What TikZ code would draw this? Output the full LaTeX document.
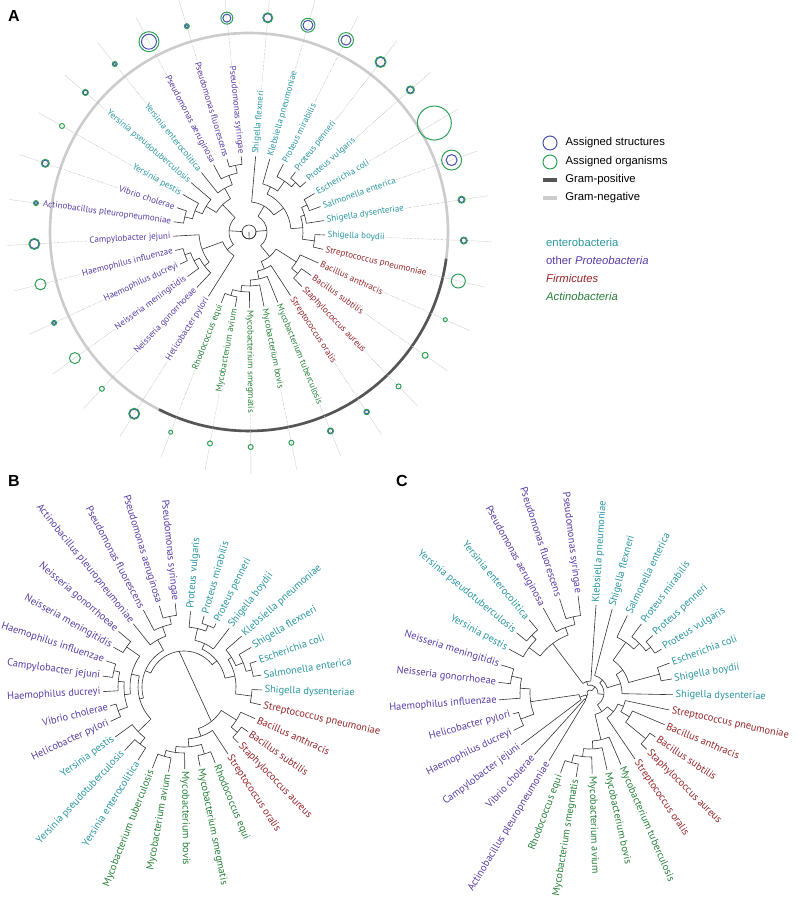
\documentclass[tikz,border=0pt]{standalone}
\usepackage{fontspec}
\setmainfont{Liberation Sans}
\newfontfamily\taxfont{PT Sans}
\usepackage{tikz}
\usetikzlibrary{positioning}
\definecolor{ent}{RGB}{42,150,160}
\definecolor{prot}{RGB}{88,60,165}
\definecolor{firm}{RGB}{150,36,40}
\definecolor{actn}{RGB}{38,128,58}
\definecolor{struct}{RGB}{70,80,175}
\definecolor{organism}{RGB}{45,160,85}
\definecolor{grampos}{RGB}{85,85,85}
\definecolor{gramneg}{RGB}{204,204,204}
\tikzset{%
  branch/.style={%
    line width=0.6pt,
    color=black!80,
    line join=round
  }
}
\tikzset{%
  leader/.style={%
    densely dotted,
    line width=0.35pt,
    color=black!55
  }
}
\tikzset{%
  spoke/.style={%
    line width=0.4pt,
    color=black!18
  }
}
\tikzset{%
  org ring/.style={line width=1pt, draw=organism},
  struct ring/.style={line width=1pt, draw=struct}
}
\tikzset{%
  panel/.style={font=\bfseries\fontsize{16}{18}\selectfont, inner sep=0pt},
  legend text/.style={font=\fontsize{11.3}{13}\selectfont, inner sep=0pt, anchor=west}
}

% leaf: id, angle, tip radius, colour, text
\newcommand\taxon[5]{%
  \expandafter\xdef\csname ang#1\endcsname{#2}%
  \expandafter\xdef\csname rad#1\endcsname{#3}%
  \coordinate (#1) at (#2:#3);
  \pgfmathtruncatemacro\sidecheck{cos(#2)>0}%
  \ifnum\sidecheck=1
    \node[taxon, text=#4, anchor=west, rotate=#2] (#1-l) at (#2:#3+1.5) {#5};
    \xdef\farend{#1-l.east}%
  \else
    \node[taxon, text=#4, anchor=east, rotate=#2+180] (#1-l) at (#2:#3+1.5) {#5};
    \xdef\farend{#1-l.west}%
  \fi}
% clade: id, radius, child, child
\newcommand\clade[4]{%
  \edef\tA{\csname ang#3\endcsname}\edef\tB{\csname ang#4\endcsname}%
  \edef\rA{\csname rad#3\endcsname}\edef\rB{\csname rad#4\endcsname}%
  \draw[branch] (\tA:\rA) -- (\tA:#2) arc[start angle=\tA, end angle=\tB, radius=#2] -- (\tB:\rB);
  \pgfmathsetmacro\tM{(\tA+\tB)/2}%
  \expandafter\xdef\csname ang#1\endcsname{\tM}%
  \expandafter\xdef\csname rad#1\endcsname{#2}%
  \coordinate (#1) at (\tM:#2);}

\begin{document}
\begin{tikzpicture}[x=1pt,y=1pt]
  \useasboundingbox (0,0) rectangle (796,902);

  \node[panel] (labA) at (14,886) {A};
  \node[panel] (labB) at (14,421) {B};
  \node[panel] (labC) at (402,421) {C};

  % legend
  \node[circle, struct ring, minimum size=14pt, inner sep=0pt] (keyStruct) at (550,759) {};
  \node[legend text, right=8pt of keyStruct] (keyStructText) {Assigned structures};
  \node[circle, org ring, minimum size=14pt, inner sep=0pt] (keyOrg) at (550,740) {};
  \node[legend text, right=8pt of keyOrg] (keyOrgText) {Assigned organisms};
  \node[fill=grampos, minimum width=14pt, minimum height=4.5pt, inner sep=0pt] (keyPos) at (550,722) {};
  \node[legend text, right=8pt of keyPos] (keyPosText) {Gram-positive};
  \node[fill=gramneg, minimum width=14pt, minimum height=4.5pt, inner sep=0pt] (keyNeg) at (550,704) {};
  \node[legend text, right=8pt of keyNeg] (keyNegText) {Gram-negative};
  \node[legend text, text=ent] (keyEnt) at (546,660) {enterobacteria};
  \node[legend text, text=prot] (keyProt) at (546,642) {other \textit{Proteobacteria}};
  \node[legend text, text=firm] (keyFirm) at (546,624) {\textit{Firmicutes}};
  \node[legend text, text=actn] (keyActn) at (546,606) {\textit{Actinobacteria}};

  % tree A
  \begin{scope}[shift={(249,670)}, taxon/.style={font=\taxfont\fontsize{9}{10}\selectfont, inner sep=1pt}]
    \draw[line width=2.6pt, gramneg] (0,0) circle[radius=199];
    \draw[line width=2.6pt, grampos] (-7.7:199) arc[start angle=-7.7, end angle=-116.9, radius=199];
    \foreach \id/\cl/\txt/\g/\b [count=\k from 0] in {
      Sflex/ent/Shigella flexneri/5/4.2,
      Kleb/ent/Klebsiella pneumoniae/7/5,
      Pmir/ent/Proteus mirabilis/7.5/5,
      Ppen/ent/Proteus penneri/5.5/4.7,
      Pvul/ent/Proteus vulgaris/4/3.2,
      Ecoli/ent/Escherichia coli/17/0,
      Salm/ent/Salmonella enterica/10/5.5,
      Sdys/ent/Shigella dysenteriae/3.5/2.7,
      Sboy/ent/Shigella boydii/3.5/2.7,
      Spneu/firm/Streptococcus pneumoniae/7/0,
      Banth/firm/Bacillus anthracis/2/0,
      Bsub/firm/Bacillus subtilis/3/0,
      Saur/firm/Staphylococcus aureus/2.5/0,
      Sora/firm/Streptococcus oralis/2.7/2,
      Mtub/actn/Mycobacterium tuberculosis/3/2.4,
      Mbov/actn/Mycobacterium bovis/2.5/0,
      Msmeg/actn/Mycobacterium smegmatis/2.5/0,
      Mavi/actn/Mycobacterium avium/2.5/0,
      Requi/actn/Rhodococcus equi/2/0,
      Hpyl/prot/Helicobacter pylori/5.5/4.7,
      Ngon/prot/Neisseria gonorrhoeae/2.5/0,
      Nmen/prot/Neisseria meningitidis/5.5/0,
      Hduc/prot/Haemophilus ducreyi/2.5/1.8,
      Hinf/prot/Haemophilus influenzae/5.5/0,
      Cjej/prot/Campylobacter jejuni/5.5/4.7,
      Apleu/prot/Actinobacillus pleuropneumoniae/2.5/1.8,
      Vcho/prot/Vibrio cholerae/4/3.2,
      Ypes/ent/Yersinia pestis/2.5/0,
      Ypseu/ent/Yersinia pseudotuberculosis/3/2.3,
      Yent/ent/Yersinia enterocolitica/2.5/1.8,
      Paer/prot/Pseudomonas aeruginosa/10/7.5,
      Pflu/prot/Pseudomonas fluorescens/2.5/1.8,
      Psyr/prot/Pseudomonas syringae/6/4}{
      \pgfmathsetmacro\th{85-\k*360/33}
      \taxon{A\id}{\th}{76}{\cl}{\txt}
      \draw[leader] (\farend) -- (\th:199);
      \draw[spoke] (\th:199) -- (\th:242);
      \ifdim\b pt>0pt \draw[struct ring] (\th:215) circle[radius=\b]; \fi
      \draw[org ring] (\th:215) circle[radius=\g];
    }
    \clade{Aa1}{68}{APpen}{APvul}
    \clade{Aa2}{62}{APmir}{Aa1}
    \clade{Aa3}{50}{AKleb}{Aa2}
    \clade{Aa4}{64}{AEcoli}{ASalm}
    \clade{Aa5}{58}{Aa4}{ASdys}
    \clade{Aa6}{66}{ASboy}{ASpneu}
    \clade{Aa7}{54}{Aa5}{Aa6}
    \clade{Aa8}{42}{Aa3}{Aa7}
    \clade{Aa9}{30}{ASflex}{Aa8}
    \clade{Aa10}{64}{ABsub}{ASaur}
    \clade{Aa11}{56}{ABanth}{Aa10}
    \clade{Aa12}{66}{AMavi}{ARequi}
    \clade{Aa13}{60}{AMsmeg}{Aa12}
    \clade{Aa14}{54}{AMbov}{Aa13}
    \clade{Aa15}{48}{AMtub}{Aa14}
    \clade{Aa16}{40}{ASora}{Aa15}
    \clade{Aa17}{32}{Aa11}{Aa16}
    \clade{Aa18}{18}{Aa9}{Aa17}
    \clade{Aa19}{68}{AHduc}{AHinf}
    \clade{Aa20}{62}{ANmen}{Aa19}
    \clade{Aa21}{56}{ANgon}{Aa20}
    \clade{Aa22}{50}{Aa21}{ACjej}
    \clade{Aa23}{28}{AHpyl}{Aa22}
    \clade{Aa24}{66}{AApleu}{AVcho}
    \clade{Aa25}{58}{Aa24}{AYpes}
    \clade{Aa26}{50}{Aa25}{AYpseu}
    \clade{Aa27}{68}{APflu}{APsyr}
    \clade{Aa28}{60}{APaer}{Aa27}
    \clade{Aa29}{50}{AYent}{Aa28}
    \clade{Aa30}{38}{Aa26}{Aa29}
    \clade{Aa31}{20}{Aa23}{Aa30}
    \clade{Aroot}{7}{Aa18}{Aa31}
    \draw[branch] (0,0) circle[radius=7];
    \draw[branch] (0,0) -- (Aroot);
  \end{scope}

  % tree B
  \begin{scope}[shift={(184,215)}, taxon/.style={font=\taxfont\fontsize{10.4}{12}\selectfont, inner sep=1pt}]
    \foreach \id/\cl/\txt/\r [count=\k from 0] in {
      Psyr/prot/Pseudomonas syringae/84,
      Pvul/ent/Proteus vulgaris/76,
      Pmir/ent/Proteus mirabilis/74,
      Ppen/ent/Proteus penneri/71,
      Sboy/ent/Shigella boydii/74,
      Kleb/ent/Klebsiella pneumoniae/77,
      Sflex/ent/Shigella flexneri/78,
      Ecoli/ent/Escherichia coli/77,
      Salm/ent/Salmonella enterica/78,
      Sdys/ent/Shigella dysenteriae/78,
      Spneu/firm/Streptococcus pneumoniae/79,
      Banth/firm/Bacillus anthracis/78,
      Bsub/firm/Bacillus subtilis/78,
      Saur/firm/Staphylococcus aureus/78,
      Sora/firm/Streptococcus oralis/80,
      Requi/actn/Rhodococcus equi/82,
      Msmeg/actn/Mycobacterium smegmatis/81,
      Mbov/actn/Mycobacterium bovis/82,
      Mavi/actn/Mycobacterium avium/86,
      Mtub/actn/Mycobacterium tuberculosis/87,
      Yent/ent/Yersinia enterocolitica/86,
      Ypseu/ent/Yersinia pseudotuberculosis/87,
      Ypes/ent/Yersinia pestis/85,
      Hpyl/prot/Helicobacter pylori/81,
      Vcho/prot/Vibrio cholerae/76,
      Hduc/prot/Haemophilus ducreyi/81,
      Cjej/prot/Campylobacter jejuni/82,
      Hinf/prot/Haemophilus influenzae/82,
      Nmen/prot/Neisseria meningitidis/81,
      Ngon/prot/Neisseria gonorrhoeae/86,
      Apleu/prot/Actinobacillus pleuropneumoniae/81,
      Pflu/prot/Pseudomonas fluorescens/87,
      Paer/prot/Pseudomonas aeruginosa/85}{
      \pgfmathsetmacro\th{96-\k*360/33+(\k>19)*360}
      \taxon{B\id}{\th}{\r}{\cl}{\txt}
    }
    \clade{Bb1}{72}{BPaer}{BPsyr}
    \clade{Bb2}{64}{BPflu}{Bb1}
    \clade{Bb3}{54}{BApleu}{Bb2}
    \clade{Bb4}{66}{BPmir}{BPpen}
    \clade{Bb5}{60}{BPvul}{Bb4}
    \clade{Bb6}{48}{Bb5}{BSboy}
    \clade{Bb7}{70}{BEcoli}{BSalm}
    \clade{Bb8}{64}{BSflex}{Bb7}
    \clade{Bb9}{56}{BKleb}{Bb8}
    \clade{Bb10}{68}{BSdys}{BSpneu}
    \clade{Bb11}{52}{Bb9}{Bb10}
    \clade{Bb12}{42}{Bb6}{Bb11}
    \clade{Bb13}{70}{BBsub}{BSaur}
    \clade{Bb14}{62}{BBanth}{Bb13}
    \clade{Bb15}{72}{BMavi}{BMtub}
    \clade{Bb16}{66}{BMbov}{Bb15}
    \clade{Bb17}{70}{BRequi}{BMsmeg}
    \clade{Bb18}{60}{Bb17}{Bb16}
    \clade{Bb19}{52}{BSora}{Bb18}
    \clade{Bb20}{44}{Bb14}{Bb19}
    \clade{Bb21}{72}{BYent}{BYpseu}
    \clade{Bb22}{64}{Bb21}{BYpes}
    \clade{Bb23}{70}{BHpyl}{BVcho}
    \clade{Bb24}{72}{BCjej}{BHinf}
    \clade{Bb25}{66}{BHduc}{Bb24}
    \clade{Bb26}{60}{Bb23}{Bb25}
    \clade{Bb27}{70}{BNmen}{BNgon}
    \clade{Bb28}{54}{Bb26}{Bb27}
    \clade{Bb29}{46}{Bb22}{Bb28}
    \clade{Bb30}{42}{Bb29}{Bb3}
    \clade{Broot}{36}{Bb30}{Bb12}
    \draw[branch] (Broot) -- (Bb20);
  \end{scope}

  % tree C
  \begin{scope}[shift={(590,209)}, taxon/.style={font=\taxfont\fontsize{10.4}{12}\selectfont, inner sep=1pt}]
    \foreach \id/\cl/\txt/\r [count=\k from 0] in {
      Psyr/prot/Pseudomonas syringae/98,
      Kleb/ent/Klebsiella pneumoniae/88,
      Sflex/ent/Shigella flexneri/87,
      Salm/ent/Salmonella enterica/86,
      Pmir/ent/Proteus mirabilis/86,
      Ppen/ent/Proteus penneri/85,
      Pvul/ent/Proteus vulgaris/84,
      Ecoli/ent/Escherichia coli/85,
      Sboy/ent/Shigella boydii/83,
      Sdys/ent/Shigella dysenteriae/83,
      Spneu/firm/Streptococcus pneumoniae/81,
      Banth/firm/Bacillus anthracis/81,
      Bsub/firm/Bacillus subtilis/79,
      Saur/firm/Staphylococcus aureus/80,
      Sora/firm/Streptococcus oralis/80,
      Mtub/actn/Mycobacterium tuberculosis/78,
      Mbov/actn/Mycobacterium bovis/79,
      Mavi/actn/Mycobacterium avium/81,
      Msmeg/actn/Mycobacterium smegmatis/85,
      Requi/actn/Rhodococcus equi/85,
      Apleu/prot/Actinobacillus pleuropneumoniae/79,
      Vcho/prot/Vibrio cholerae/83,
      Cjej/prot/Campylobacter jejuni/86,
      Hduc/prot/Haemophilus ducreyi/85,
      Hpyl/prot/Helicobacter pylori/80,
      Hinf/prot/Haemophilus influenzae/91,
      Ngon/prot/Neisseria gonorrhoeae/92,
      Nmen/prot/Neisseria meningitidis/93,
      Ypes/ent/Yersinia pestis/92,
      Ypseu/ent/Yersinia pseudotuberculosis/95,
      Yent/ent/Yersinia enterocolitica/95,
      Paer/prot/Pseudomonas aeruginosa/97,
      Pflu/prot/Pseudomonas fluorescens/99}{
      \pgfmathsetmacro\th{97-\k*360/33+(\k>19)*360}
      \taxon{C\id}{\th}{\r}{\cl}{\txt}
    }
    \clade{Cc1}{78}{CPflu}{CPsyr}
    \clade{Cc2}{70}{CPaer}{Cc1}
    \clade{Cc3}{82}{CYpseu}{CYent}
    \clade{Cc4}{76}{CYpes}{Cc3}
    \clade{Cc5}{62}{Cc4}{Cc2}
    \clade{Cc6}{76}{CPpen}{CPvul}
    \clade{Cc7}{70}{CPmir}{Cc6}
    \clade{Cc8}{62}{CSalm}{Cc7}
    \clade{Cc9}{72}{CEcoli}{CSboy}
    \clade{Cc10a}{40}{Cc8}{Cc9}
    \clade{Cc10}{32}{Cc10a}{CSdys}
    \clade{Cc11}{72}{CBsub}{CSaur}
    \clade{Cc12}{46}{CBanth}{Cc11}
    \clade{Cc13}{36}{CSpneu}{Cc12}
    \clade{Cc14}{30}{Cc13}{CSora}
    \clade{Cc15}{72}{CMsmeg}{CRequi}
    \clade{Cc16}{64}{CMavi}{Cc15}
    \clade{Cc17}{56}{CMbov}{Cc16}
    \clade{Cc18}{48}{CMtub}{Cc17}
    \clade{Cc19}{22}{Cc14}{Cc18}
    \clade{Cc20}{80}{CNgon}{CNmen}
    \clade{Cc21}{70}{CHinf}{Cc20}
    \clade{Cc22}{74}{CHduc}{CHpyl}
    \clade{Cc23}{60}{Cc22}{Cc21}
    \clade{CcA}{8}{CApleu}{CVcho}
    \clade{CcB}{11}{CCjej}{Cc23}
    \clade{CcC}{5}{CcA}{CcB}
    \clade{CcE}{12}{Cc5}{CKleb}
    \clade{CcF}{18}{CSflex}{Cc10}
    \clade{CcG}{14}{CcF}{Cc19}
    \clade{CcH}{8}{CcE}{CcG}
    \clade{Croot}{3}{CcC}{CcH}
  \end{scope}
\end{tikzpicture}
\end{document}
